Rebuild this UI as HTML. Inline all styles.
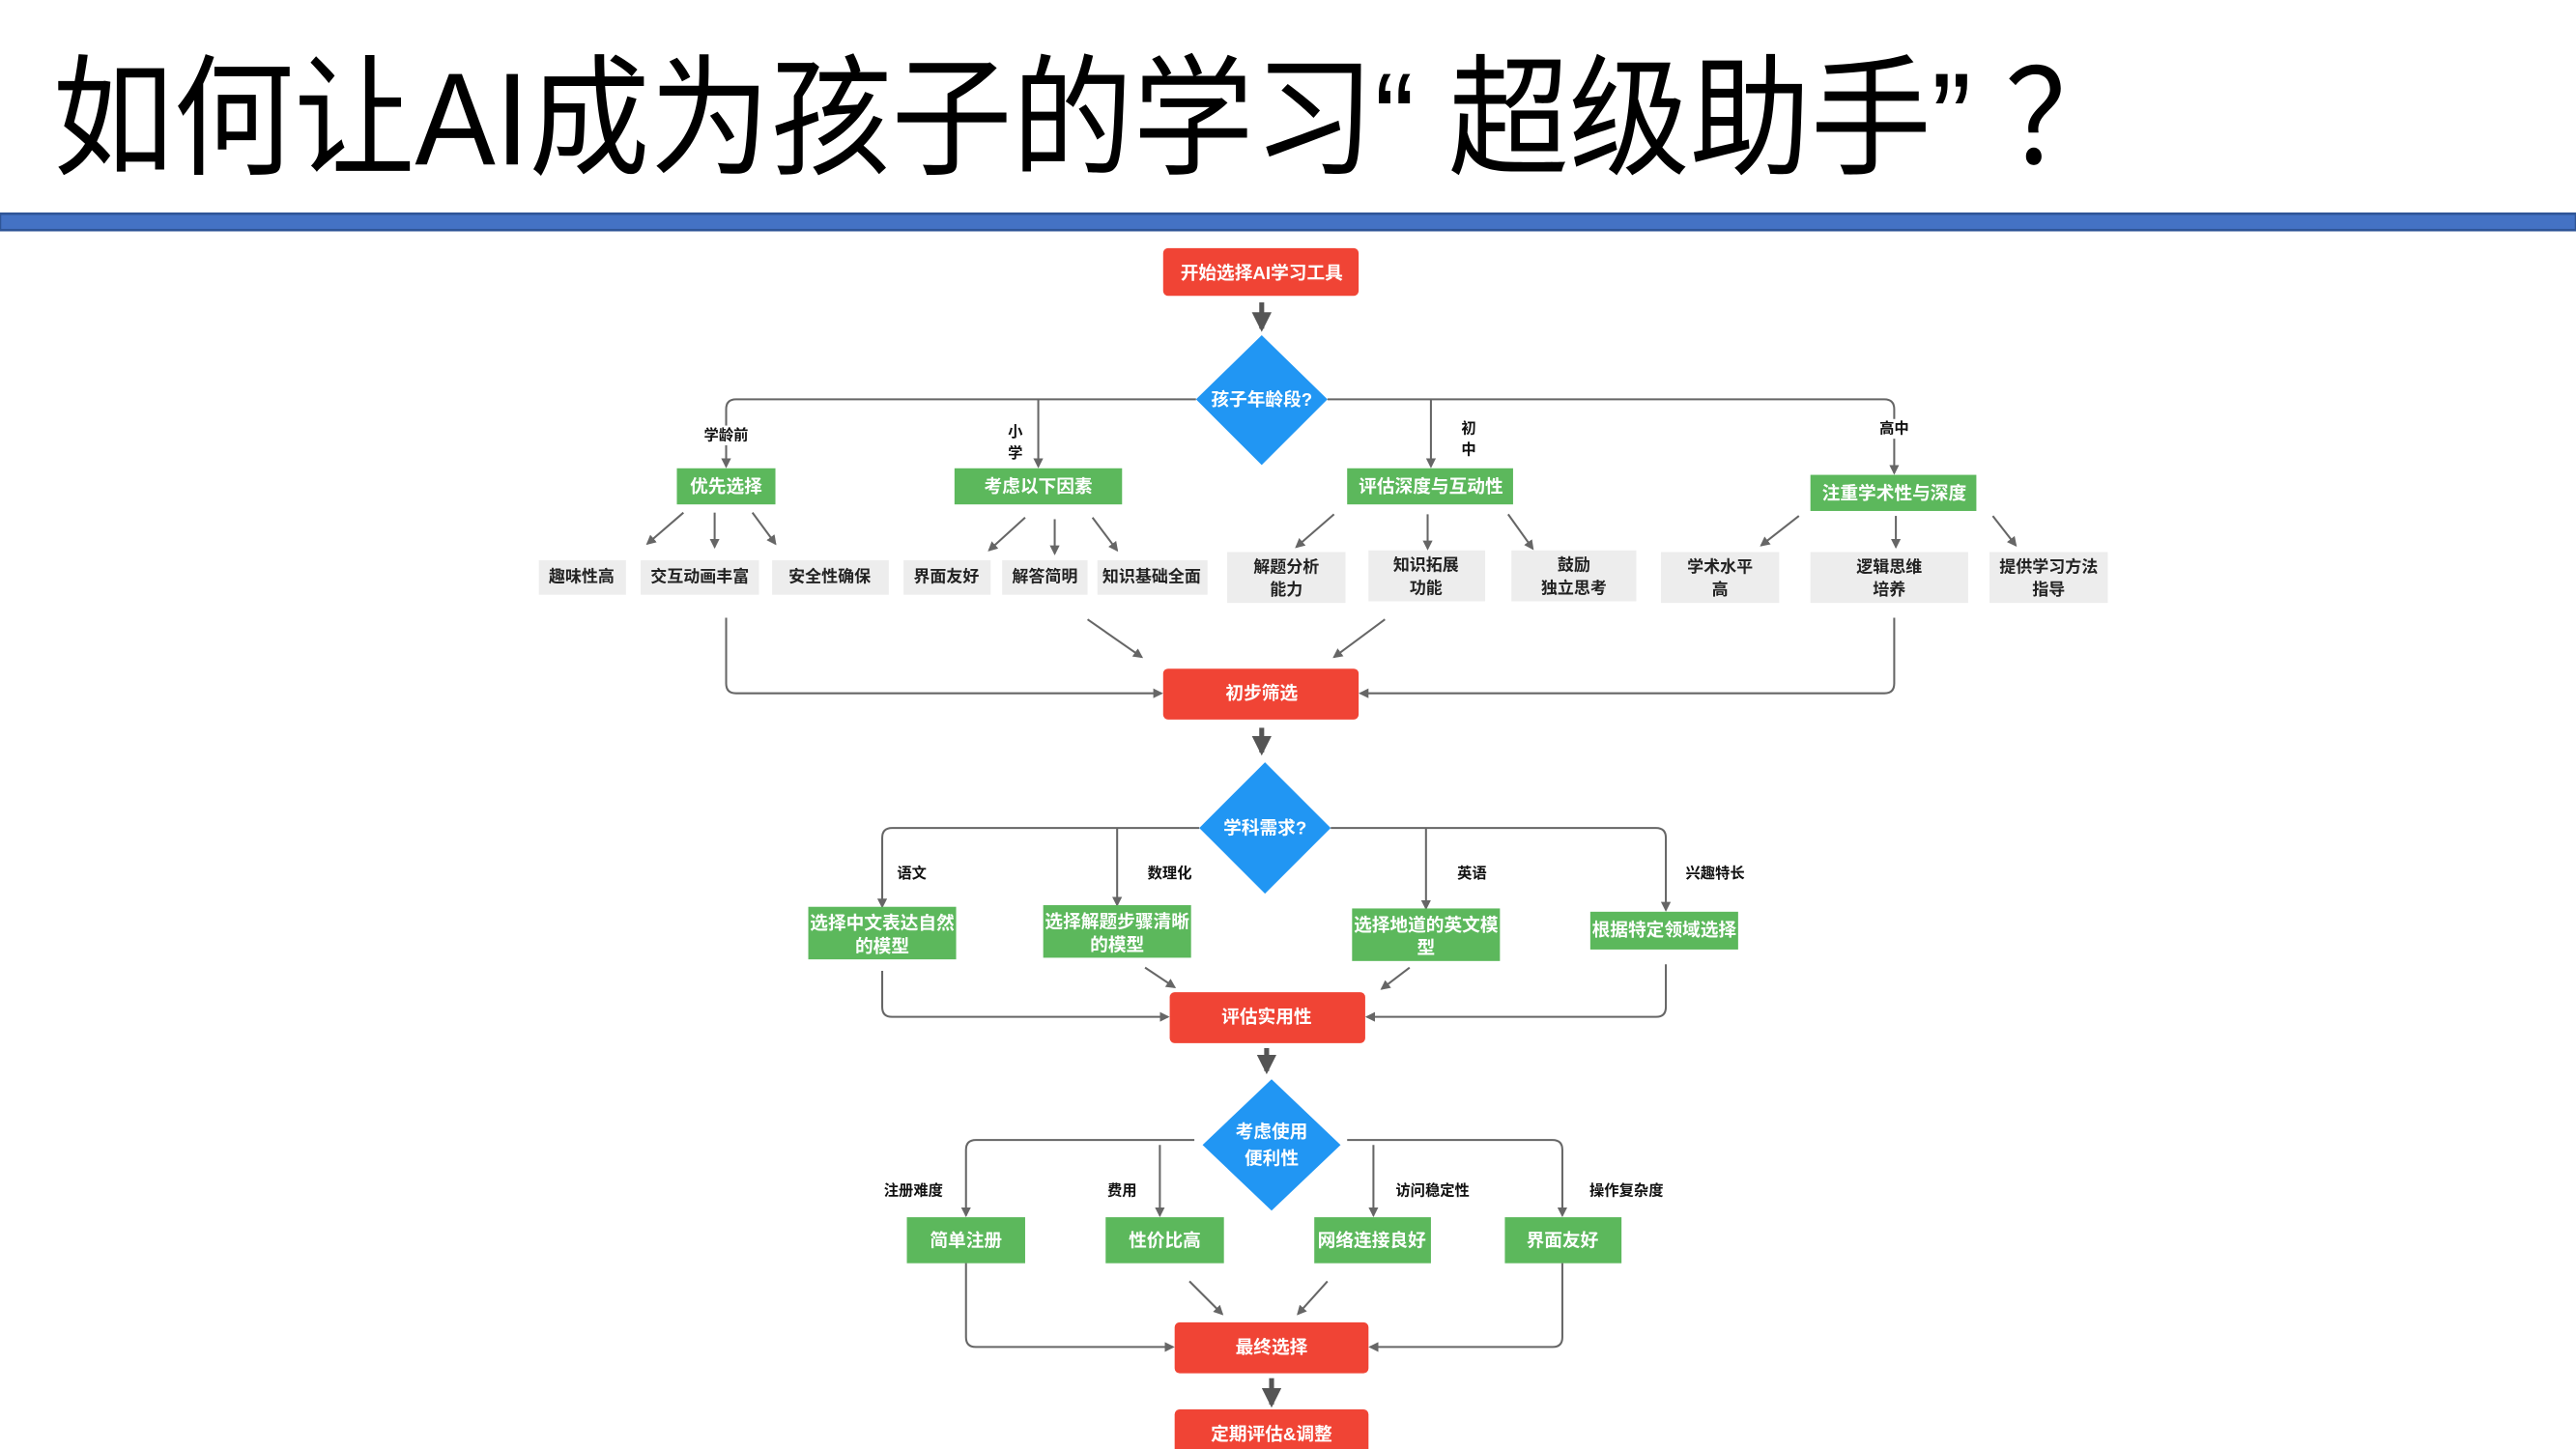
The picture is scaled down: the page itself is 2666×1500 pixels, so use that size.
<!DOCTYPE html>
<html><head><meta charset="utf-8"><style>
html,body{margin:0;padding:0;background:#fff;}
svg{display:block;}
text{font-family:"Liberation Sans","Noto Sans CJK SC",sans-serif;}
.t{font-weight:bold;fill:#fff;font-size:11px;text-anchor:middle;dominant-baseline:central;}
.g{font-weight:bold;fill:#222;font-size:10px;text-anchor:middle;dominant-baseline:central;}
.l{font-weight:bold;fill:#111;font-size:9px;text-anchor:middle;dominant-baseline:central;}
.ln{stroke:#666;stroke-width:1.2;fill:none;}
</style></head><body>
<svg width="2666" height="1500" viewBox="0 0 1568 882" xmlns="http://www.w3.org/2000/svg">
<defs>
<marker id="a" markerWidth="6" markerHeight="6" refX="5" refY="3" orient="auto" markerUnits="userSpaceOnUse"><path d="M0,0 L6,3 L0,6 z" fill="#666"/></marker>
<marker id="b" markerWidth="14" markerHeight="12" refX="10" refY="6" orient="auto" markerUnits="userSpaceOnUse"><path d="M0,0 L12,6 L0,12 z" fill="#555"/></marker>
</defs>
<rect width="1568" height="882" fill="#fff"/>
<text x="32" y="100" font-family="'Noto Serif CJK SC',serif" font-size="80" textLength="1262" lengthAdjust="spacingAndGlyphs" fill="#000">如何让AI成为孩子的学习“ 超级助手” ？</text>
<rect x="0" y="130" width="1568" height="10" fill="#4472C4" stroke="#2F5597" stroke-width="1.5"/>

<!-- section 1 -->
<rect x="708" y="151" width="119" height="29" rx="3" fill="#F04435"/>
<text class="t" x="768" y="166">开始选择AI学习工具</text>
<line x1="768" y1="184" x2="768" y2="200" stroke="#555" stroke-width="3" marker-end="url(#b)"/>
<polygon points="768,204 808,243 768,283 728,243" fill="#2196F3"/>
<text class="t" x="768" y="243">孩子年龄段?</text>
<path class="ln" d="M728,243 H448 Q442,243 442,249 V284" marker-end="url(#a)"/>
<path class="ln" d="M808,243 H1147 Q1153,243 1153,249 V288" marker-end="url(#a)"/>
<line class="ln" x1="632" y1="243" x2="632" y2="284" marker-end="url(#a)"/>
<line class="ln" x1="871" y1="243" x2="871" y2="284" marker-end="url(#a)"/>
<rect x="438" y="259" width="10" height="12" fill="#fff"/><text class="l" x="442" y="265">学龄前</text>
<text class="l" x="618" y="263">小</text><text class="l" x="618" y="276">学</text>
<text class="l" x="894" y="261">初</text><text class="l" x="894" y="274">中</text>
<rect x="1140" y="255" width="26" height="12" fill="#fff"/><text class="l" x="1153" y="261">高中</text>
<g fill="#5CB85C">
<rect x="412" y="285" width="60" height="22"/><rect x="581" y="285" width="102" height="22"/>
<rect x="820" y="285" width="101" height="22"/><rect x="1102" y="289" width="101" height="22"/>
</g>
<text class="t" x="442" y="296" font-size="10">优先选择</text>
<text class="t" x="632" y="296" font-size="10">考虑以下因素</text>
<text class="t" x="871" y="296" font-size="10">评估深度与互动性</text>
<text class="t" x="1153" y="300" font-size="10">注重学术性与深度</text>
<g class="ln" marker-end="url(#a)">
<line x1="416" y1="312" x2="394" y2="331"/><line x1="435" y1="312" x2="435" y2="333"/><line x1="458" y1="312" x2="472" y2="331"/>
<line x1="624" y1="315" x2="602" y2="335"/><line x1="642" y1="316" x2="642" y2="337"/><line x1="665" y1="315" x2="680" y2="335"/>
<line x1="812" y1="313" x2="789" y2="333"/><line x1="869" y1="313" x2="869" y2="334"/><line x1="918" y1="313" x2="933" y2="334"/>
<line x1="1095" y1="314" x2="1072" y2="332"/><line x1="1154" y1="314" x2="1154" y2="333"/><line x1="1213" y1="314" x2="1227" y2="332"/>
</g>
<g fill="#EDEDED">
<rect x="328" y="341" width="53" height="21"/><rect x="390" y="341" width="72" height="21"/><rect x="470" y="341" width="71" height="21"/>
<rect x="550" y="341" width="53" height="21"/><rect x="610" y="341" width="52" height="21"/><rect x="668" y="341" width="67" height="21"/>
<rect x="747" y="336" width="72" height="31"/><rect x="833" y="335" width="71" height="31"/><rect x="920" y="335" width="76" height="31"/>
<rect x="1011" y="336" width="72" height="31"/><rect x="1102" y="336" width="96" height="31"/><rect x="1211" y="336" width="72" height="31"/>
</g>
<text class="g" x="354" y="351">趣味性高</text><text class="g" x="426" y="351">交互动画丰富</text><text class="g" x="505" y="351">安全性确保</text>
<text class="g" x="576" y="351">界面友好</text><text class="g" x="636" y="351">解答简明</text><text class="g" x="701" y="351">知识基础全面</text>
<text class="g" x="783" y="345">解题分析</text><text class="g" x="783" y="359">能力</text>
<text class="g" x="868" y="344">知识拓展</text><text class="g" x="868" y="358">功能</text>
<text class="g" x="958" y="344">鼓励</text><text class="g" x="958" y="358">独立思考</text>
<text class="g" x="1047" y="345">学术水平</text><text class="g" x="1047" y="359">高</text>
<text class="g" x="1150" y="345">逻辑思维</text><text class="g" x="1150" y="359">培养</text>
<text class="g" x="1247" y="345">提供学习方法</text><text class="g" x="1247" y="359">指导</text>
<path class="ln" d="M442,376 V416 Q442,422 448,422 H707" marker-end="url(#a)"/>
<path class="ln" d="M1153,376 V416 Q1153,422 1147,422 H828" marker-end="url(#a)"/>
<line class="ln" x1="662" y1="377" x2="695" y2="400" marker-end="url(#a)"/>
<line class="ln" x1="843" y1="377" x2="812" y2="400" marker-end="url(#a)"/>
<rect x="708" y="407" width="119" height="31" rx="3" fill="#F04435"/>
<text class="t" x="768" y="422">初步筛选</text>
<line x1="768" y1="443" x2="768" y2="458" stroke="#555" stroke-width="3" marker-end="url(#b)"/>

<!-- section 2 -->
<polygon points="770,464 810,504 770,544 730,504" fill="#2196F3"/>
<text class="t" x="770" y="504">学科需求?</text>
<path class="ln" d="M730,504 H543 Q537,504 537,510 V552" marker-end="url(#a)"/>
<path class="ln" d="M810,504 H1008 Q1014,504 1014,510 V554" marker-end="url(#a)"/>
<line class="ln" x1="680" y1="504" x2="680" y2="551" marker-end="url(#a)"/>
<line class="ln" x1="868" y1="504" x2="868" y2="553" marker-end="url(#a)"/>
<text class="l" x="555" y="532">语文</text><text class="l" x="712" y="532">数理化</text>
<text class="l" x="896" y="532">英语</text><text class="l" x="1044" y="532">兴趣特长</text>
<g fill="#5CB85C">
<rect x="492" y="552" width="90" height="32"/><rect x="635" y="551" width="90" height="32"/>
<rect x="823" y="553" width="90" height="32"/><rect x="968" y="555" width="90" height="23"/>
</g>
<text class="t" x="537" y="562" font-size="10">选择中文表达自然</text><text class="t" x="537" y="576" font-size="10">的模型</text>
<text class="t" x="680" y="561" font-size="10">选择解题步骤清晰</text><text class="t" x="680" y="575" font-size="10">的模型</text>
<text class="t" x="868" y="563" font-size="10">选择地道的英文模</text><text class="t" x="868" y="577" font-size="10">型</text>
<text class="t" x="1013" y="566" font-size="10">根据特定领域选择</text>
<path class="ln" d="M537,591 V613 Q537,619 543,619 H711" marker-end="url(#a)"/>
<path class="ln" d="M1014,587 V613 Q1014,619 1008,619 H832" marker-end="url(#a)"/>
<line class="ln" x1="697" y1="589" x2="715" y2="601" marker-end="url(#a)"/>
<line class="ln" x1="858" y1="589" x2="841" y2="602" marker-end="url(#a)"/>
<rect x="712" y="604" width="119" height="31" rx="3" fill="#F04435"/>
<text class="t" x="771" y="619">评估实用性</text>
<line x1="771" y1="638" x2="771" y2="652" stroke="#555" stroke-width="3" marker-end="url(#b)"/>

<!-- section 3 -->
<polygon points="774,657 816,697 774,737 732,697" fill="#2196F3"/>
<text class="t" x="774" y="689">考虑使用</text><text class="t" x="774" y="705">便利性</text>
<path class="ln" d="M727,694 H594 Q588,694 588,700 V740" marker-end="url(#a)"/>
<path class="ln" d="M820,694 H945 Q951,694 951,700 V740" marker-end="url(#a)"/>
<line class="ln" x1="706" y1="697" x2="706" y2="740" marker-end="url(#a)"/>
<line class="ln" x1="836" y1="697" x2="836" y2="740" marker-end="url(#a)"/>
<text class="l" x="556" y="725">注册难度</text><text class="l" x="683" y="725">费用</text>
<text class="l" x="872" y="725">访问稳定性</text><text class="l" x="990" y="725">操作复杂度</text>
<g fill="#5CB85C">
<rect x="552" y="741" width="72" height="28"/><rect x="673" y="741" width="72" height="28"/>
<rect x="800" y="741" width="71" height="28"/><rect x="916" y="741" width="71" height="28"/>
</g>
<text class="t" x="588" y="755" font-size="10">简单注册</text><text class="t" x="709" y="755" font-size="10">性价比高</text>
<text class="t" x="835" y="755" font-size="10">网络连接良好</text><text class="t" x="951" y="755" font-size="10">界面友好</text>
<path class="ln" d="M588,769 V814 Q588,820 594,820 H714" marker-end="url(#a)"/>
<path class="ln" d="M951,769 V814 Q951,820 945,820 H834" marker-end="url(#a)"/>
<line class="ln" x1="724" y1="780" x2="744" y2="800" marker-end="url(#a)"/>
<line class="ln" x1="808" y1="780" x2="790" y2="800" marker-end="url(#a)"/>
<rect x="715" y="805" width="118" height="31" rx="3" fill="#F04435"/>
<text class="t" x="774" y="820">最终选择</text>
<line x1="774" y1="839" x2="774" y2="855" stroke="#555" stroke-width="3" marker-end="url(#b)"/>
<rect x="715" y="858" width="118" height="30" rx="3" fill="#F04435"/>
<text class="t" x="774" y="873">定期评估&amp;调整</text>
</svg>
</body></html>
